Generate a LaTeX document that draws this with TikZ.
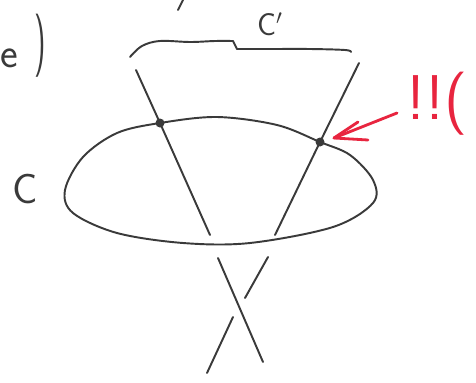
\documentclass[tikz,border=0pt]{standalone}
\usepackage{tikz}
\usetikzlibrary{arrows.meta,calc}
\definecolor{skink}{HTML}{3A3A3A}
\definecolor{skred}{HTML}{E8253F}

\begin{document}
\begin{tikzpicture}[x=0.02cm,y=-0.02cm,line cap=round,line join=round,
  font=\sffamily,
  pen/.style={draw=skink,line width=1.1pt},
  redpen/.style={draw=skred,line width=1.6pt},
  hand/.style={text=skink,inner sep=0pt},
  spot/.style={fill=skink}]
\path[use as bounding box] (0,0) rectangle (476,382);
\fill[white] (0,0) rectangle (476,382);
% labels
\node[hand,font=\sffamily\fontsize{24}{24}\selectfont] (eLab) at (9,58) {e};
\node[hand,xscale=0.5,font=\sffamily\fontsize{36}{36}\selectfont] (paren) at (40,46) {)};
\node[hand,font=\sffamily\fontsize{24}{24}\selectfont] (labC) at (25,189) {C};
\node[hand,font=\sffamily\fontsize{18}{18}\selectfont] (labCp) at (270,24) {C$'$};
\node[text=skred,inner sep=0pt,font=\sffamily\fontsize{36}{36}\selectfont] (bang) at (437,104) {!!(};
% stray tick at top
\draw[pen] (178,10) -- (183,0);
% the curve C'
\draw[pen] plot[smooth,tension=0.6] coordinates {(130,57) (142,46) (160,41) (190,42) (215,41) (233,41)}
  -- (237,49) -- plot[smooth,tension=0.6] coordinates {(237,49) (270,49) (310,49) (345,50) (351,52)};
% the oval C
\draw[pen] plot[smooth cycle,tension=0.55] coordinates {(65,190) (83,157) (117,133) (160,123) (217,117)
  (277,125) (320,142) (350,155) (373,180) (373,203) (333,227) (250,243) (183,243) (117,233) (73,213)};
% the two strands and their crossing below
\coordinate (pL) at (160,123);
\coordinate (pR) at (320,142);
\draw[pen] (136,70) -- (pL) -- (210,235);
\draw[pen] (359,63) -- (pR) -- (275,235);
\draw[pen] (218,258) -- (263,362);
\draw[pen] (268,257) -- (245,298);
\draw[pen] (233,317) -- (207,373);
\fill[spot] (pL) circle[radius=0.09cm];
\fill[spot] (pR) circle[radius=0.09cm];
% red arrow at the right point
\coordinate (tipR) at (334,138);
\draw[redpen] (397,113) -- (tipR);
\draw[redpen] (358,122) -- (tipR) -- (368,140);
\end{tikzpicture}
\end{document}
